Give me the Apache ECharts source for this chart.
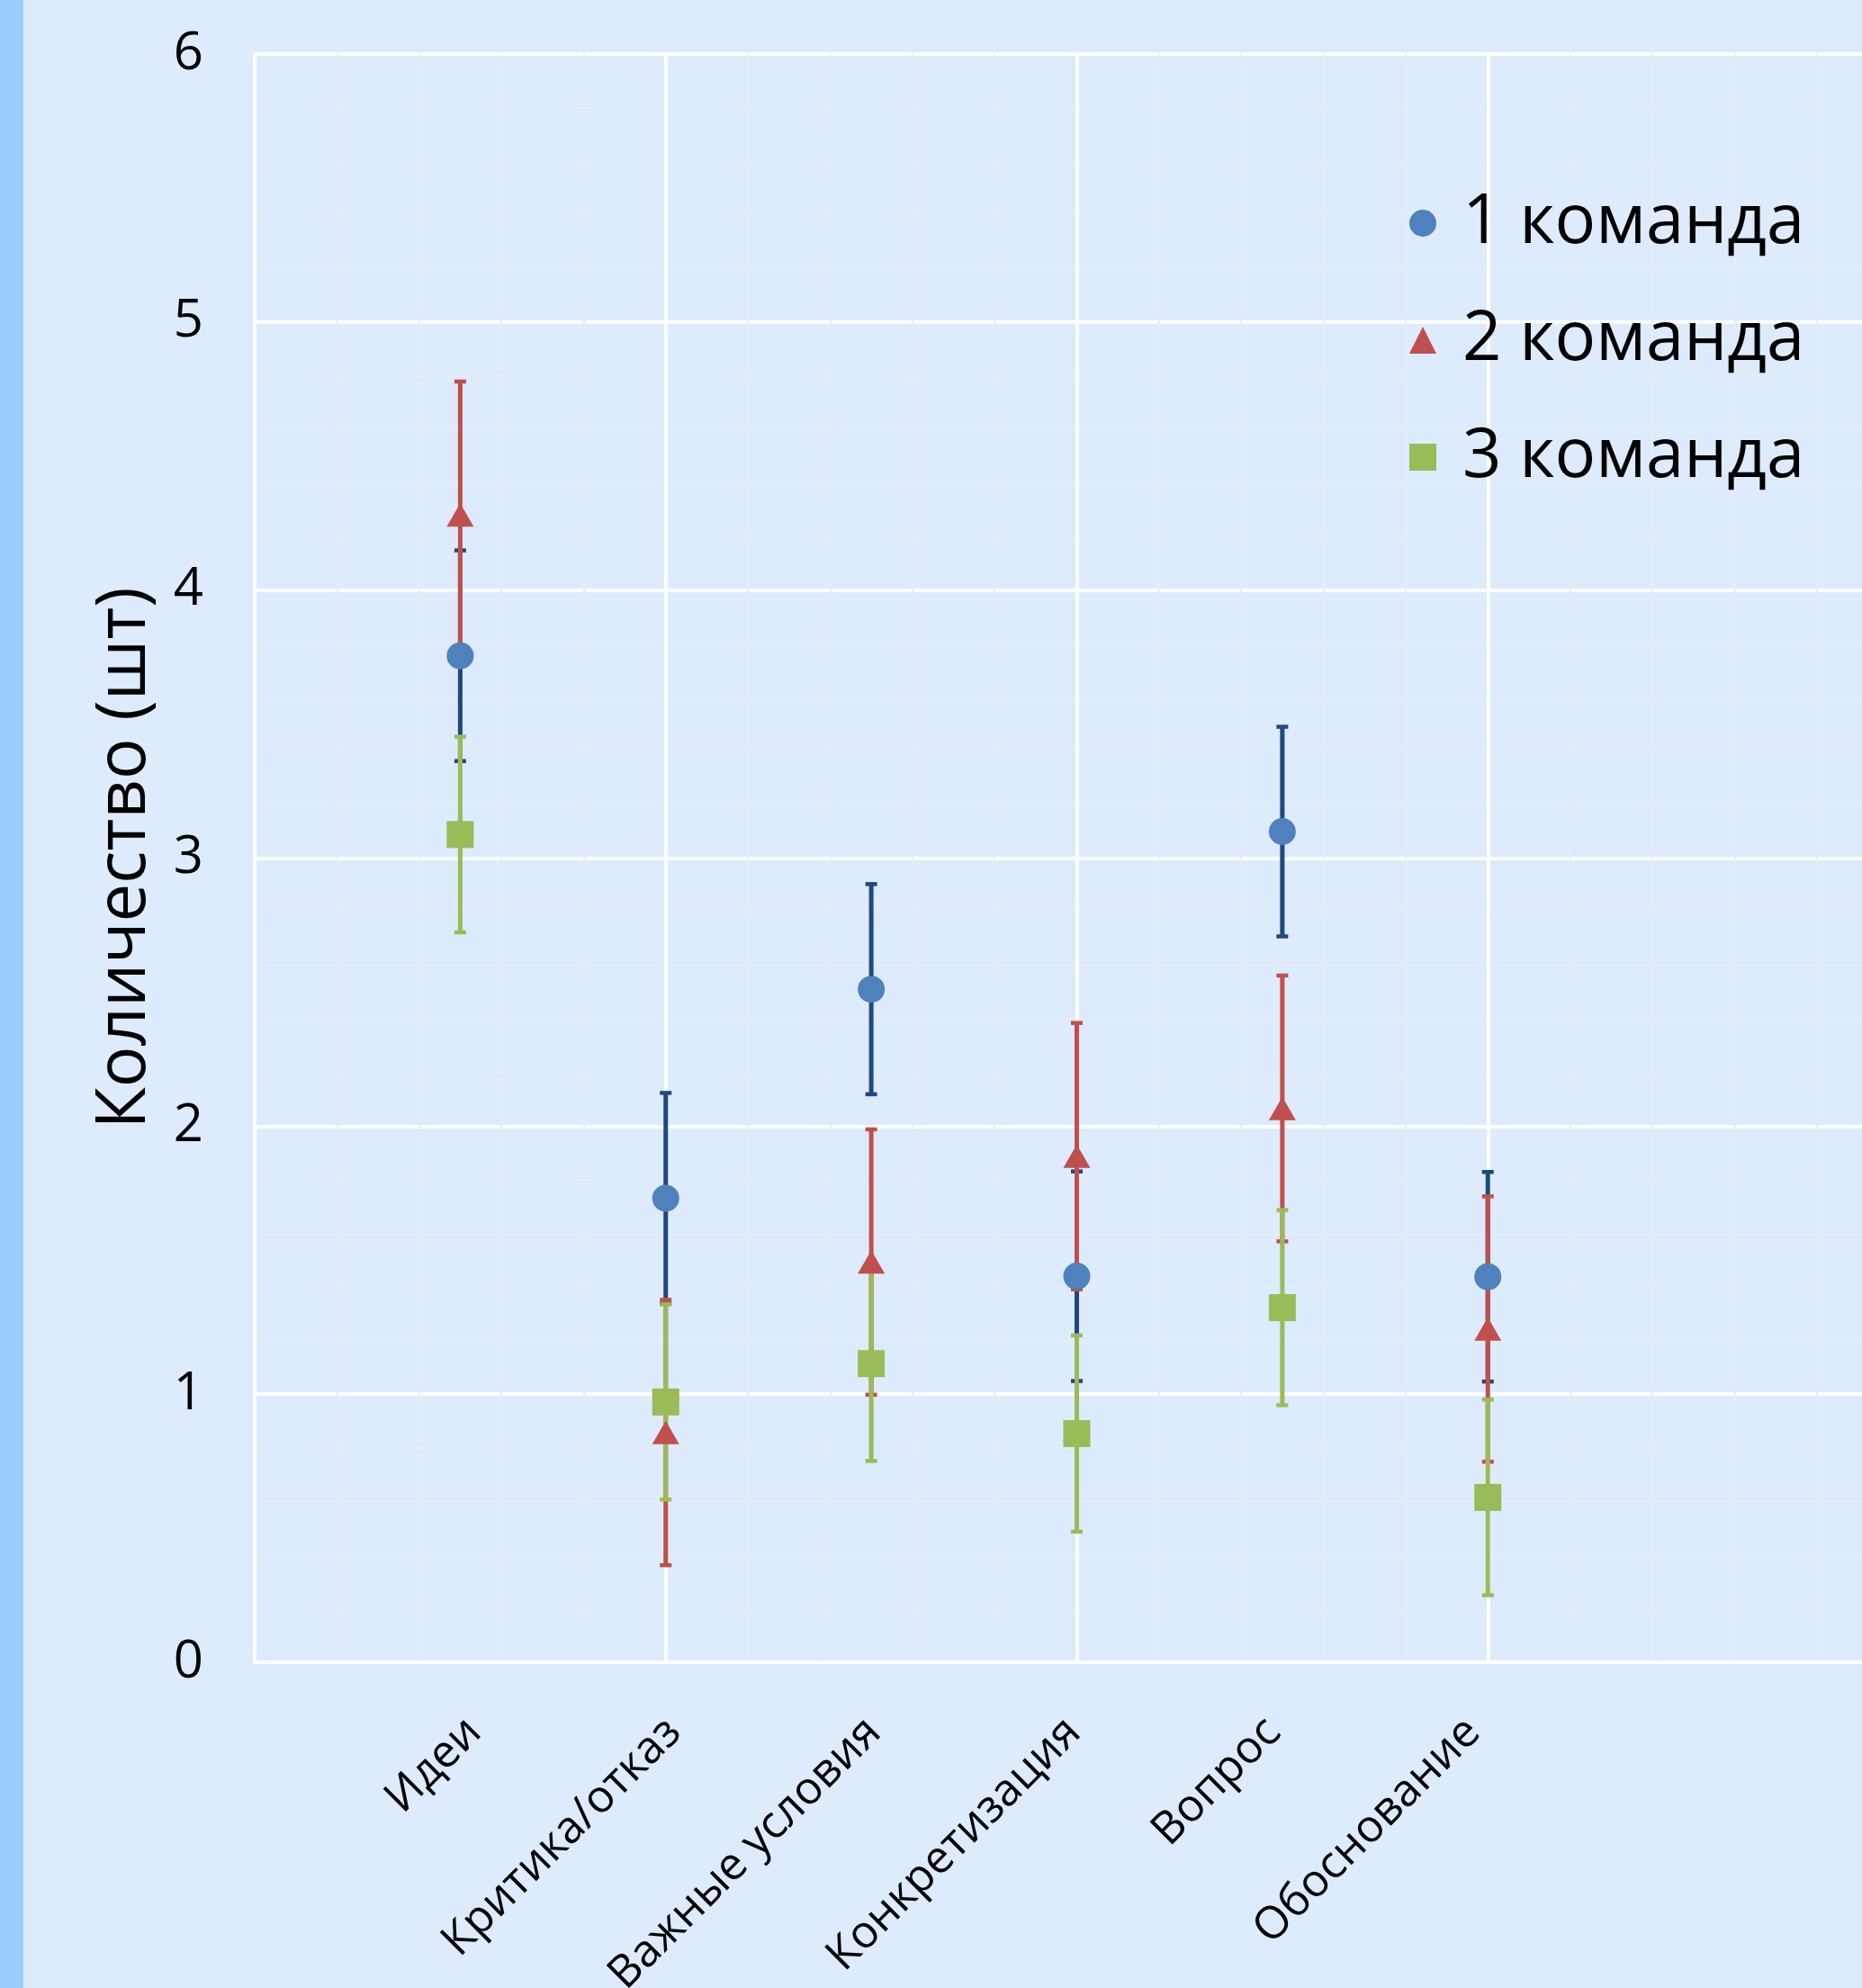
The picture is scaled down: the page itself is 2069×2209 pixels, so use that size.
<!DOCTYPE html>
<html><head><meta charset="utf-8">
<script src="https://cdn.jsdelivr.net/npm/echarts@6/dist/echarts.min.js"></script>
<style>html,body{margin:0;padding:0;background:#ddebfd;overflow:hidden;}#c{width:2130px;height:2209px;}</style>
</head><body><div id="c"></div>
<script>
const categories = ['Идеи', 'Критика/отказ', 'Важные условия', 'Конкретизация', 'Вопрос', 'Обоснование'];
const categoryX = [1, 2, 3, 4, 5, 6];
const seriesNames = ['1 команда', '2 команда', '3 команда'];
const team1 = [3.755, 1.731, 2.511, 1.440, 3.099, 1.438];
const team1Err = [0.393, 0.393, 0.392, 0.391, 0.391, 0.391];
const team2 = [4.280, 0.857, 1.493, 1.888, 2.066, 1.243];
const team2Err = [0.498, 0.495, 0.495, 0.497, 0.496, 0.495];
const team3 = [3.088, 0.971, 1.114, 0.853, 1.323, 0.615];
const team3Err = [0.365, 0.364, 0.363, 0.366, 0.364, 0.365];
const yTicks = [0, 1, 2, 3, 4, 5, 6];

const FONT = 'Open Sans';
const markerColors = ['#4f81bd', '#c0504d', '#9bbb59'];
const barColors = ['#1f497d', '#c0504d', '#9bbb59'];
const symbols = ['circle', 'triangle', 'rect'];
const symbolSizes = [30, [30, 26], 30];
const values = [team1, team2, team3];
const errs = [team1Err, team2Err, team3Err];

function errRender(color) {
  return function (params, api) {
    const x = api.value(0), lo = api.value(1), hi = api.value(2);
    const pLo = api.coord([x, lo]), pHi = api.coord([x, hi]);
    const half = 6.5;
    return {
      type: 'group',
      children: [
        { type: 'line', shape: { x1: pLo[0], y1: pLo[1], x2: pHi[0], y2: pHi[1] }, style: { stroke: color, lineWidth: 5 } },
        { type: 'line', shape: { x1: pHi[0] - half, y1: pHi[1], x2: pHi[0] + half, y2: pHi[1] }, style: { stroke: color, lineWidth: 4.5 } },
        { type: 'line', shape: { x1: pLo[0] - half, y1: pLo[1], x2: pLo[0] + half, y2: pLo[1] }, style: { stroke: color, lineWidth: 4.5 } }
      ]
    };
  };
}

const series = [];
for (let s = 0; s < 3; s++) {
  series.push({
    name: seriesNames[s] + ' err',
    type: 'custom',
    xAxisIndex: 0, yAxisIndex: 0,
    renderItem: errRender(barColors[s]),
    encode: { x: 0, y: [1, 2] },
    clip: false,
    z: 2 + s * 0.1,
    data: categoryX.map((x, i) => [x, values[s][i] - errs[s][i], values[s][i] + errs[s][i]])
  });
}
for (let s = 0; s < 3; s++) {
  series.push({
    name: seriesNames[s],
    type: 'scatter',
    xAxisIndex: 0, yAxisIndex: 0,
    symbol: symbols[s],
    symbolSize: symbolSizes[s],
    itemStyle: { color: markerColors[s], opacity: 1 },
    z: 5,
    data: categoryX.map((x, i) => [x, values[s][i]])
  });
}

const chart = echarts.init(document.getElementById('c'), null, { renderer: 'canvas' });
chart.setOption({
  backgroundColor: '#ddebfd',
  animation: false,
  textStyle: { fontFamily: FONT },
  graphic: [{ type: 'rect', left: 0, top: 0, z: 100, shape: { width: 26, height: 2209 }, style: { fill: '#99ccff' } }],
  grid: { left: 283, top: 60, width: 1827, height: 1787, outerBoundsMode: 'none', containLabel: false },
  legend: {
    orient: 'vertical', left: 1566, top: 203, padding: 0,
    itemWidth: 30, itemHeight: 30, itemGap: 40,
    textStyle: { fontFamily: FONT, fontSize: 76, color: '#000', lineHeight: 90, padding: [0, 0, 0, 24] },
    data: [
      { name: seriesNames[0], icon: 'circle' },
      { name: seriesNames[1], icon: 'triangle' },
      { name: seriesNames[2], icon: 'rect' }
    ]
  },
  xAxis: [
    {
      type: 'value', min: 0, max: 8, interval: 2,
      axisLine: { show: true, lineStyle: { color: '#ffffff', width: 4 } },
      axisTick: { show: false },
      axisLabel: { show: false },
      splitLine: { show: true, lineStyle: { color: '#ffffff', width: 4 } },
      minorTick: { show: false, splitNumber: 5 },
      minorSplitLine: { show: true, lineStyle: { color: '#e6ecf3', width: 2 } }
    },
    {
      type: 'value', position: 'bottom', min: -0.0991, max: 8.1306,
      axisLine: { show: false }, axisTick: { show: false },
      splitLine: { show: false },
      axisLabel: {
        customValues: categoryX,
        rotate: 45, margin: 70, fontSize: 50, fontFamily: FONT, color: '#000',
        formatter: v => { const i = categoryX.indexOf(v); return i >= 0 ? categories[i] : ''; }
      }
    }
  ],
  yAxis: {
    type: 'value', min: 0, max: 6, interval: 1,
    name: 'Количество (шт)', nameLocation: 'middle', nameRotate: 90, nameGap: 144,
    nameTextStyle: { fontFamily: FONT, fontSize: 76, color: '#000', verticalAlign: 'middle' },
    axisLine: { show: true, lineStyle: { color: '#ffffff', width: 4 } },
    axisTick: { show: false },
    axisLabel: { fontSize: 58, fontFamily: FONT, color: '#000', margin: 57, customValues: yTicks },
    splitLine: { show: true, lineStyle: { color: '#ffffff', width: 4 } },
    minorTick: { show: false, splitNumber: 5 },
    minorSplitLine: { show: true, lineStyle: { color: '#e6ecf3', width: 2 } }
  },
  series: series
});
</script>
</body></html>
